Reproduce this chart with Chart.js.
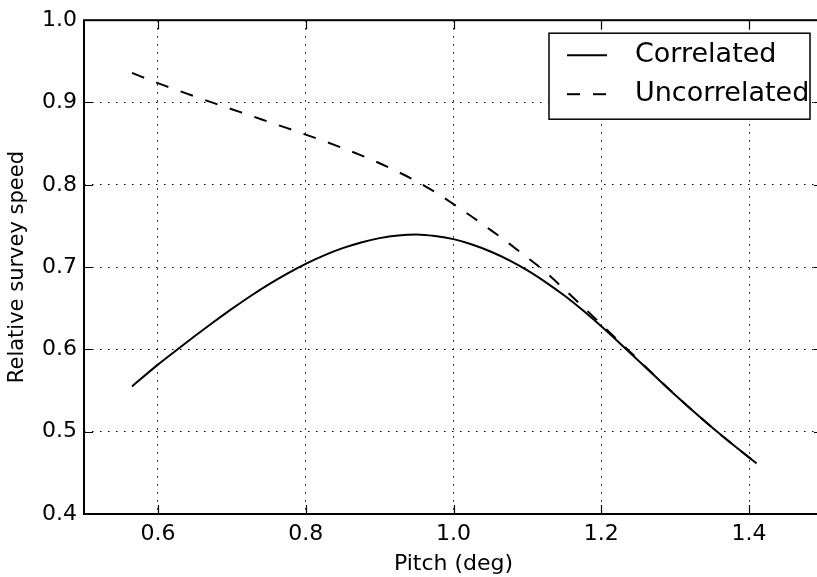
<!DOCTYPE html>
<html>
<head>
<meta charset="utf-8">
<script src="https://cdn.jsdelivr.net/npm/chart.js@4.4.1/dist/chart.umd.min.js"></script>
<style>
  html, body { margin: 0; padding: 0; background: #fff; }
  body { width: 817px; height: 577px; overflow: hidden; }
  #wrap { width: 830px; height: 577px; }
</style>
</head>
<body>
<div id="wrap"><canvas id="speedChart" width="830" height="577"></canvas></div>
<script>
// valeurs
const pitch = [0.565, 0.6, 0.625, 0.65, 0.675, 0.7, 0.725, 0.75, 0.775, 0.8, 0.825, 0.85, 0.875, 0.9,
  0.925, 0.95, 0.975, 1.0, 1.025, 1.05, 1.075, 1.1, 1.125, 1.15, 1.175, 1.2, 1.225, 1.25, 1.275, 1.3,
  1.325, 1.35, 1.375, 1.41];
const correlated = [0.555, 0.5815, 0.599, 0.6162, 0.633, 0.6492, 0.6646, 0.679, 0.6922, 0.704, 0.7143,
  0.723, 0.73, 0.7352, 0.7385, 0.7397, 0.7378, 0.734, 0.7275, 0.719, 0.7085, 0.696, 0.6815, 0.6655,
  0.6475, 0.628, 0.6075, 0.5865, 0.5655, 0.5447, 0.5245, 0.505, 0.4865, 0.4615];
const uncorrelated = [0.936, 0.9235, 0.9153, 0.9073, 0.8995, 0.8918, 0.8842, 0.8765, 0.8688, 0.861,
  0.853, 0.8447, 0.8358, 0.8262, 0.8157, 0.8042, 0.7912, 0.7765, 0.7612, 0.7453, 0.7288, 0.7115,
  0.6935, 0.673, 0.652, 0.6305, 0.609, 0.5875, 0.5658, 0.5447, 0.5245, 0.505, 0.4865, 0.4615];
const xTicks = [0.6, 0.8, 1.0, 1.2, 1.4];
const yTicks = [0.4, 0.5, 0.6, 0.7, 0.8, 0.9, 1.0];

const FONT = 'DejaVu Sans';
const DASH = [13, 13];

const toPoints = (ys) => pitch.map((x, i) => ({ x: x, y: ys[i] }));

// cadre, graduations vers l'intérieur et légende dans le coin
const framePlugin = {
  id: 'frame',
  afterDraw(chart) {
    const { ctx, chartArea: a, scales } = chart;
    ctx.save();
    ctx.strokeStyle = '#000';
    ctx.lineWidth = 2;
    ctx.strokeRect(a.left, a.top, a.right - a.left, a.bottom - a.top);

    ctx.lineWidth = 1.2;
    ctx.beginPath();
    xTicks.forEach((v) => {
      const x = Math.round(scales.x.getPixelForValue(v)) + 0.5;
      ctx.moveTo(x, a.bottom); ctx.lineTo(x, a.bottom - 9);
      ctx.moveTo(x, a.top); ctx.lineTo(x, a.top + 9);
    });
    yTicks.forEach((v) => {
      const y = Math.round(scales.y.getPixelForValue(v)) + 0.5;
      ctx.moveTo(a.left, y); ctx.lineTo(a.left + 9, y);
      ctx.moveTo(a.right, y); ctx.lineTo(a.right - 9, y);
    });
    ctx.stroke();

    // légende
    const bw = 261, bh = 86;
    const bx = a.right - 13 - bw, by = a.top + 13;
    ctx.fillStyle = '#fff';
    ctx.fillRect(bx, by, bw, bh);
    ctx.lineWidth = 1.5;
    ctx.strokeRect(bx, by, bw, bh);
    ctx.font = '27px "' + FONT + '"';
    ctx.textBaseline = 'middle';
    ctx.textAlign = 'left';
    ctx.fillStyle = '#000';
    chart.data.datasets.forEach((ds, i) => {
      const cy = by + 22 + i * 39;
      ctx.lineWidth = 2;
      ctx.setLineDash(ds.borderDash || []);
      ctx.beginPath();
      ctx.moveTo(bx + 18, cy); ctx.lineTo(bx + 58, cy);
      ctx.stroke();
      ctx.setLineDash([]);
      ctx.fillText(ds.label, bx + 86, cy);
    });
    ctx.restore();
  },
};

new Chart(document.getElementById('speedChart'), {
  type: 'line',
  data: {
    datasets: [
      {
        label: 'Correlated',
        data: toPoints(correlated),
        borderColor: '#000',
        borderWidth: 2,
        pointRadius: 0,
        cubicInterpolationMode: 'monotone',
      },
      {
        label: 'Uncorrelated',
        data: toPoints(uncorrelated),
        borderColor: '#000',
        borderWidth: 2,
        borderDash: DASH,
        pointRadius: 0,
        cubicInterpolationMode: 'monotone',
      },
    ],
  },
  options: {
    responsive: false,
    animation: false,
    layout: { padding: { top: 20, right: 7, left: 0, bottom: 0 } },
    plugins: {
      legend: { display: false },
      tooltip: { enabled: false },
    },
    scales: {
      x: {
        type: 'linear',
        min: 0.5,
        max: 1.5,
        afterBuildTicks: (s) => { s.ticks = xTicks.map((v) => ({ value: v })); },
        afterFit: (s) => { s.height = 63; },
        grid: { color: '#000', lineWidth: 1, drawTicks: false },
        border: { display: false, dash: [1.5, 6.5] },
        ticks: {
          color: '#000',
          padding: 7,
          font: { family: FONT, size: 22 },
          callback: (v) => v.toFixed(1),
        },
        title: {
          display: true,
          text: 'Pitch (deg)',
          color: '#000',
          font: { family: FONT, size: 22 },
          padding: { top: 0, bottom: 0 },
        },
      },
      y: {
        type: 'linear',
        min: 0.4,
        max: 1.0,
        afterBuildTicks: (s) => { s.ticks = yTicks.map((v) => ({ value: v })); },
        afterFit: (s) => { s.width = 84; },
        grid: { color: '#000', lineWidth: 1, drawTicks: false },
        border: { display: false, dash: [1.5, 6.5] },
        ticks: {
          color: '#000',
          padding: 7,
          font: { family: FONT, size: 22 },
          callback: (v) => v.toFixed(1),
        },
        title: {
          display: true,
          text: 'Relative survey speed',
          color: '#000',
          font: { family: FONT, size: 21 },
          padding: { top: 5, bottom: 0 },
        },
      },
    },
  },
  plugins: [framePlugin],
});
</script>
</body>
</html>
